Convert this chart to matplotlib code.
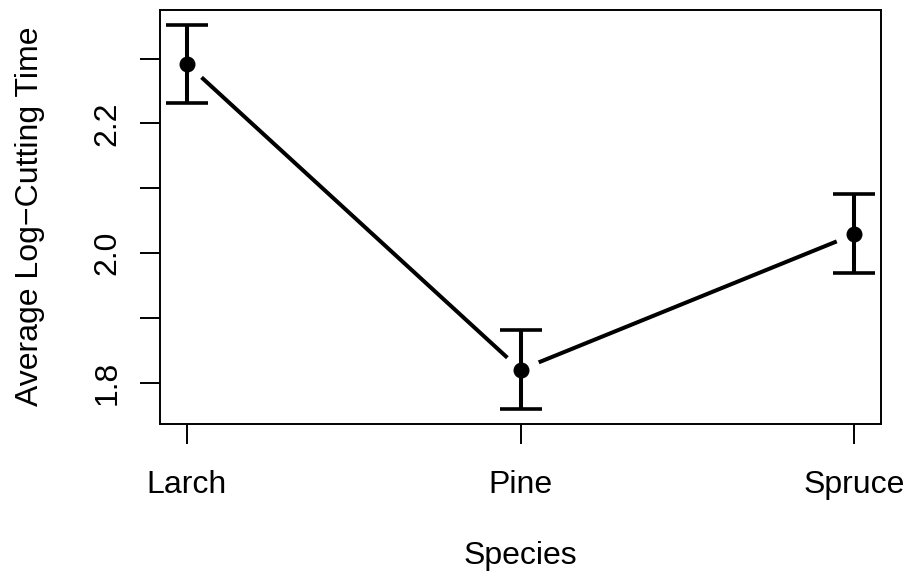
import numpy as np
import matplotlib
matplotlib.use('Agg')
import matplotlib.pyplot as plt

plt.rcParams['font.family'] = ['Liberation Sans', 'DejaVu Sans']

# data
species = ['Larch', 'Pine', 'Spruce']
means = [2.292, 1.820, 2.029]
lower = [2.231, 1.760, 1.969]
upper = [2.352, 1.882, 2.091]

x = np.arange(1, len(species) + 1)
means = np.array(means)
lower = np.array(lower)
upper = np.array(upper)

fig = plt.figure(figsize=(9.09, 5.76), dpi=100)
ax = fig.add_axes([160 / 909, 1 - 424 / 576, (881 - 160) / 909, (424 - 9.5) / 576])

# line between means, with gaps round the points (R type="b" style)
ax.plot(x, means, color='black', lw=2.9, zorder=1, solid_capstyle='butt')
ax.plot(x, means, 'o', color='white', ms=26.5, zorder=2)

# error bars and points
ax.errorbar(x, means, yerr=[means - lower, upper - means], fmt='none',
            ecolor='black', elinewidth=2.9, capsize=14.8, capthick=2.6, zorder=3)
ax.plot(x, means, 'o', color='black', ms=10.5, zorder=4)

# R style 4% extension of the ranges
ymin, ymax = lower.min(), upper.max()
pad = 0.04 * (ymax - ymin)
ax.set_ylim(ymin - pad, ymax + pad)
ax.set_xlim(1 - 0.04 * 2, 3 + 0.04 * 2)

ax.set_xticks(x)
ax.set_xticklabels(species)
ax.set_yticks([1.8, 2.0, 2.2])
ax.set_yticklabels(['1.8', '2.0', '2.2'], rotation=90, va='center')
ax.set_yticks([1.9, 2.1, 2.3], minor=True)

for side in ax.spines.values():
    side.set_linewidth(1.4)
ax.tick_params(axis='both', which='both', direction='out', length=14.4, width=1.4,
               labelsize=23)
ax.tick_params(axis='x', pad=19)
ax.tick_params(axis='y', pad=12.5)

ax.set_xlabel('Species', fontsize=23, labelpad=29)
ax.set_ylabel('Average Log\u2212Cutting Time', fontsize=23, labelpad=34)

fig.savefig('out.png', dpi=100)
